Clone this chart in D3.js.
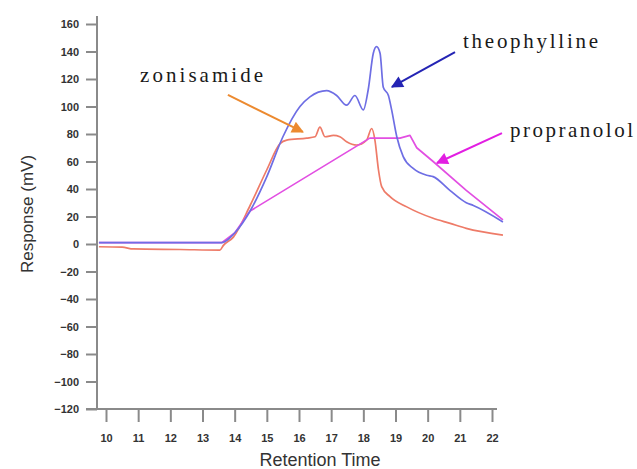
<!DOCTYPE html>
<html>
<head>
<meta charset="utf-8">
<script src="https://cdn.jsdelivr.net/npm/d3@7"></script>
<style>
  body { margin: 0; background: #fff; }
  #chart { width: 637px; height: 469px; }
  .tick text { font-family: Arial, "Liberation Sans", sans-serif; font-size: 11px; font-weight: bold; fill: #333; }
  .axisTitle { font-family: Arial, "Liberation Sans", sans-serif; fill: #333; }
  .note { font-family: "Liberation Serif", "Times New Roman", serif; font-size: 21px; fill: #1a1a1a; }
</style>
</head>
<body>
<div id="chart"></div>
<script>

// retention time (x) and response in mV (y)
const theophylline = [
  [9.78, 1], [13.6, 1], [14.0, 8], [14.48, 24], [15.0, 49], [15.5, 78], [16.03, 100],
  [16.34, 107], [16.86, 111.5], [17.17, 108], [17.48, 101], [17.74, 108], [18.0, 97.5],
  [18.15, 112], [18.31, 138.7], [18.41, 143.5], [18.52, 138.7], [18.62, 114], [18.78, 108],
  [18.88, 97.5], [19.04, 78], [19.24, 63.5], [19.55, 55], [19.97, 50], [20.17, 49],
  [20.69, 39], [21.2, 30], [21.42, 28], [22.34, 16]
];

const zonisamide = [
  [9.78, -2], [10.5, -2.3], [10.85, -3.6], [12.3, -4], [13.54, -4.4], [13.65, -1],
  [13.96, 5], [14.48, 28], [15.0, 54], [15.41, 73], [15.62, 75.6], [16.24, 77], [16.5, 78],
  [16.65, 85], [16.81, 78], [17.07, 79], [17.27, 78], [17.48, 74.4], [17.79, 72],
  [18.1, 75.6], [18.26, 84], [18.36, 75.6], [18.47, 54], [18.57, 41.7], [18.83, 34.4],
  [19.35, 27], [20.17, 18.7], [20.7, 15], [21.2, 11.4], [22.34, 6.5]
];

const propranolol = [
  [9.78, 1], [13.6, 1], [14.0, 8], [14.48, 24], [18.2, 77], [19.14, 77], [19.45, 79],
  [19.66, 70], [20.17, 60], [21.2, 39], [22.34, 17.5]
];

const xTicks = [10, 11, 12, 13, 14, 15, 16, 17, 18, 19, 20, 21, 22];
const yTicks = [160, 140, 120, 100, 80, 60, 40, 20, 0, -20, -40, -60, -80, -100, -120];

// label text, label anchor, arrow start, arrow tip (data units)
const noteNames = ["zonisamide", "theophylline", "propranolol"];
const noteLabelAt = [[11.06, 117.8], [21.1, 142.5], [22.56, 77.8]];
const noteFrom = [[13.79, 108.4], [20.85, 139.6], [22.31, 80.7]];
const noteTo = [[16.12, 81.5], [18.89, 114.2], [20.29, 58.9]];

const width = 637, height = 469;

const svg = d3.select("#chart")
    .append("svg")
    .attr("width", width)
    .attr("height", height);

const xScale = d3.scaleLinear().domain([10, 22]).range([106, 492]);
const yScale = d3.scaleLinear().domain([-120, 160]).range([409, 24]);

/*
AXES
*/
const axisColor = "#8a8a8a";

const yAxis = svg.append("g")
    .attr("transform", "translate(97,0)")
    .call(d3.axisLeft(yScale).tickValues(yTicks).tickSize(11).tickPadding(7).tickSizeOuter(0));
yAxis.select(".domain").remove();
yAxis.selectAll(".tick line").attr("stroke", axisColor).attr("stroke-width", 2);

const xAxis = svg.append("g")
    .attr("transform", "translate(0,409)")
    .call(d3.axisBottom(xScale).tickValues(xTicks).tickSize(13).tickPadding(12).tickSizeOuter(0));
xAxis.select(".domain").remove();
xAxis.selectAll(".tick line").attr("stroke", axisColor).attr("stroke-width", 2);

svg.append("line")
    .attr("x1", 97).attr("x2", 97)
    .attr("y1", 16).attr("y2", 409)
    .attr("stroke", axisColor).attr("stroke-width", 2);

svg.append("line")
    .attr("x1", 86).attr("x2", 497)
    .attr("y1", 409).attr("y2", 409)
    .attr("stroke", axisColor).attr("stroke-width", 2);

svg.append("text")
    .attr("class", "axisTitle")
    .attr("transform", "rotate(-90)")
    .attr("x", -214)
    .attr("y", 33)
    .attr("text-anchor", "middle")
    .attr("font-size", 17)
    .text("Response (mV)");

svg.append("text")
    .attr("class", "axisTitle")
    .attr("x", 320)
    .attr("y", 466)
    .attr("text-anchor", "middle")
    .attr("font-size", 18)
    .text("Retention Time");

/*
LINES
*/
const smooth = d3.line()
    .x(function(d) { return xScale(d[0]); })
    .y(function(d) { return yScale(d[1]); })
    .curve(d3.curveMonotoneX);

const straight = d3.line()
    .x(function(d) { return xScale(d[0]); })
    .y(function(d) { return yScale(d[1]); });

svg.append("path").datum(zonisamide)
    .attr("d", smooth).attr("fill", "none")
    .attr("stroke", "#ee7b68").attr("stroke-width", 1.7);

svg.append("path").datum(propranolol)
    .attr("d", straight).attr("fill", "none")
    .attr("stroke", "#e24fe2").attr("stroke-width", 1.7)
    .attr("stroke-linejoin", "round");

svg.append("path").datum(theophylline)
    .attr("d", smooth).attr("fill", "none")
    .attr("stroke", "#6e6ee4").attr("stroke-width", 1.7);

/*
ANNOTATIONS
*/
const noteColors = ["#ec8a30", "#2424b4", "#e21ee2"];
const noteWidths = [123, 135, 123];

noteColors.forEach(function(c, i) {
    svg.append("defs").append("marker")
        .attr("id", "head" + i)
        .attr("viewBox", "0 0 10 10")
        .attr("refX", 9).attr("refY", 5)
        .attr("markerWidth", 7).attr("markerHeight", 6)
        .attr("markerUnits", "strokeWidth")
        .attr("orient", "auto")
      .append("path")
        .attr("d", "M0,0 L10,5 L0,10 Z")
        .attr("fill", c);
});

noteNames.forEach(function(name, i) {
    svg.append("line")
        .attr("x1", xScale(noteFrom[i][0])).attr("y1", yScale(noteFrom[i][1]))
        .attr("x2", xScale(noteTo[i][0])).attr("y2", yScale(noteTo[i][1]))
        .attr("stroke", noteColors[i]).attr("stroke-width", 2)
        .attr("marker-end", "url(#head" + i + ")");

    svg.append("text")
        .attr("class", "note")
        .attr("x", xScale(noteLabelAt[i][0]))
        .attr("y", yScale(noteLabelAt[i][1]))
        .attr("textLength", noteWidths[i])
        .attr("lengthAdjust", "spacing")
        .text(name);
});

</script>
</body>
</html>
